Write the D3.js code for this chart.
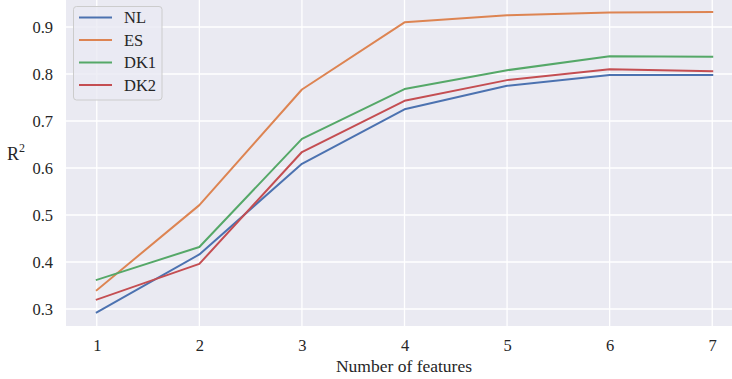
<!DOCTYPE html>
<html>
<head>
<meta charset="utf-8">
<script src="https://cdn.jsdelivr.net/npm/d3@7/dist/d3.min.js"></script>
<style>
  html, body { margin: 0; padding: 0; background: #ffffff; }
  svg { display: block; }
  svg text { font-family: "Liberation Serif", "Times New Roman", Times, serif !important; }
</style>
</head>
<body>
<svg id="chart" width="732" height="379"></svg>
<script>
// Number of features used by the model
const features = [1, 2, 3, 4, 5, 6, 7];

// R² per region for each feature count
const NL  = [0.293, 0.416, 0.609, 0.725, 0.775, 0.798, 0.798];
const ES  = [0.340, 0.521, 0.767, 0.910, 0.925, 0.931, 0.932];
const DK1 = [0.362, 0.432, 0.662, 0.768, 0.808, 0.838, 0.837];
const DK2 = [0.320, 0.396, 0.634, 0.743, 0.787, 0.810, 0.806];

const seriesNames = ["NL", "ES", "DK1", "DK2"];
const seriesValues = [NL, ES, DK1, DK2];
const colors = ["#4c72b0", "#dd8452", "#55a868", "#c44e52"];

const yTicks = [0.3, 0.4, 0.5, 0.6, 0.7, 0.8, 0.9];

const FONT = "Liberation Serif, Times New Roman, serif";
const svg = d3.select("#chart").attr("font-family", FONT);
const plot = { left: 66, right: 743, top: 0, bottom: 326 };

const x = d3.scaleLinear().domain([0.7, 7.3]).range([plot.left, plot.right]);
const y = d3.scaleLinear().domain([0.2638, 0.9575]).range([plot.bottom, plot.top]);

// Plot background
svg.append("rect")
  .attr("x", plot.left).attr("y", plot.top)
  .attr("width", plot.right - plot.left).attr("height", plot.bottom - plot.top)
  .attr("fill", "#eaeaf2");

// Grid lines
const grid = svg.append("g");
grid.selectAll("line.h").data(yTicks).join("line")
  .attr("x1", plot.left).attr("x2", plot.right)
  .attr("y1", d => y(d)).attr("y2", d => y(d))
  .attr("stroke", "#ffffff").attr("stroke-width", 1.3);
grid.selectAll("line.v").data(features).join("line")
  .attr("y1", plot.top).attr("y2", plot.bottom)
  .attr("x1", d => x(d)).attr("x2", d => x(d))
  .attr("stroke", "#ffffff").attr("stroke-width", 1.3);

// Axes (labels only, seaborn darkgrid style)
const xAxis = svg.append("g")
  .attr("transform", `translate(0,${plot.bottom})`)
  .call(d3.axisBottom(x).tickValues(features).tickFormat(d3.format("d")).tickSize(0).tickPadding(13));
const yAxis = svg.append("g")
  .attr("transform", `translate(${plot.left},0)`)
  .call(d3.axisLeft(y).tickValues(yTicks).tickFormat(d3.format(".1f")).tickSize(0).tickPadding(13));
[xAxis, yAxis].forEach(a => {
  a.attr("font-family", FONT).attr("font-size", 16.5);
  a.select(".domain").remove();
  a.selectAll("text").attr("fill", "#262626");
});

// Axis titles
svg.append("text")
  .attr("x", 404).attr("y", 372)
  .attr("text-anchor", "middle")
  .attr("fill", "#262626").attr("font-size", 17.5)
  .text("Number of features");

const yTitle = svg.append("text")
  .attr("x", 7).attr("y", 160)
  .attr("fill", "#262626").attr("font-size", 18);
yTitle.append("tspan").text("R");
yTitle.append("tspan").attr("dy", -8).attr("font-size", 12).text("2");

// Lines
const line = d3.line().x((d, i) => x(features[i])).y(d => y(d));
svg.append("g").selectAll("path").data(seriesValues).join("path")
  .attr("d", line)
  .attr("fill", "none")
  .attr("stroke", (d, i) => colors[i])
  .attr("stroke-width", 2)
  .attr("stroke-linejoin", "round")
  .attr("stroke-linecap", "square");

// Legend
const legend = svg.append("g");
legend.append("rect")
  .attr("x", 73.5).attr("y", 6.5).attr("width", 88.5).attr("height", 93.5)
  .attr("rx", 3)
  .attr("fill", "#eaeaf2").attr("fill-opacity", 0.8)
  .attr("stroke", "#cccccc").attr("stroke-width", 1);
const rows = legend.selectAll("g.row").data(seriesNames).join("g")
  .attr("transform", (d, i) => `translate(0,${17.5 + i * 22.5})`);
rows.append("line")
  .attr("x1", 79).attr("x2", 112).attr("y1", 0).attr("y2", 0)
  .attr("stroke", (d, i) => colors[i]).attr("stroke-width", 2);
rows.append("text")
  .attr("x", 124).attr("y", 5.5)
  .attr("fill", "#262626").attr("font-size", 16.5)
  .text(d => d);
</script>
</body>
</html>
